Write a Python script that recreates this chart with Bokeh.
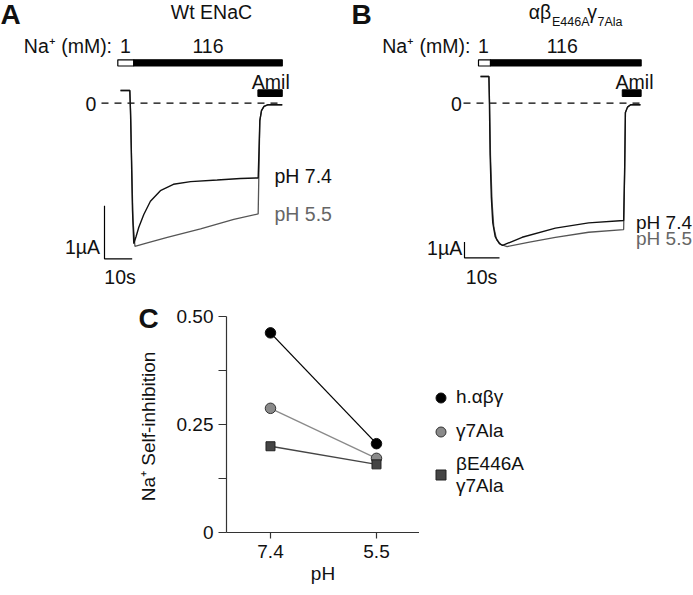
import math
from bokeh.plotting import figure
from bokeh.models import Range1d, Label, Legend, LegendItem, FixedTicker
from bokeh.layouts import column, row
from bokeh.embed import file_html
from bokeh.resources import INLINE

# ---------------- data ----------------
# Panel A (Wt ENaC): time (s), current (uA)
a_t_74 = [0, 3.36, 3.61, 3.97, 4.33, 4.80, 5.60, 6.61, 8.41, 10.8, 14.4, 19.1, 25.3, 34.9, 43.3, 49.7,
          50.0, 50.3, 50.9, 51.8, 53.1, 58.4]
a_i_74 = [0.24, 0.24, -0.14, -1.08, -2.02, -2.65, -2.52, -2.34, -2.10, -1.85, -1.65, -1.53, -1.48, -1.45, -1.42, -1.41,
          -0.89, -0.33, -0.14, -0.06, -0.03, -0.03]
a_t_55 = [0, 3.36, 3.70, 4.10, 4.50, 5.20, 10.0, 16.9, 28.9, 40.9, 49.7,
          50.0, 50.3, 50.9, 51.8, 53.1, 58.4]
a_i_55 = [0.24, 0.24, -0.30, -1.30, -2.20, -2.70, -2.63, -2.53, -2.37, -2.19, -2.09,
          -1.20, -0.33, -0.14, -0.06, -0.03, -0.03]
# Panel B (alpha beta-E446A gamma-7Ala)
b_t_74 = [0, 2.40, 2.55, 2.75, 3.10, 3.50, 4.20, 5.40, 6.30, 11.9, 21.4, 30.9, 40.9,
          41.2, 41.4, 42.0, 42.9, 45.7]
b_i_74 = [1.70, 1.70, 0.0, -3.3, -6.0, -7.6, -8.5, -8.95, -9.06, -8.54, -7.96, -7.62, -7.47,
          -4.0, -0.6, -0.25, -0.10, -0.10]
b_t_55 = [0, 2.40, 2.60, 2.85, 3.30, 3.80, 4.60, 5.80, 7.60, 14.0, 21.4, 30.9, 40.9,
          41.2, 41.4, 42.0, 42.9, 45.7]
b_i_55 = [1.70, 1.70, 0.0, -3.3, -6.3, -7.9, -8.7, -9.0, -9.13, -8.85, -8.54, -8.22, -8.05,
          -4.3, -0.6, -0.25, -0.10, -0.10]
# solution periods (s)
a_na1 = (-0.97, 4.8)
a_na116 = (4.8, 58.4)
a_amil = (49.6, 58.4)
b_na1 = (-0.57, 2.86)
b_na116 = (2.86, 45.9)
b_amil = (40.5, 45.9)
scale_i = 1.0    # uA
scale_t = 10.0   # s

# Panel C
ph_labels = ["7.4", "5.5"]
si_habg = [0.463, 0.206]
si_g7ala = [0.288, 0.172]
si_be446a_g7ala = [0.200, 0.158]
series_names = ["h.\u03b1\u03b2\u03b3", "\u03b37Ala", "\u03b2E446A\n\u03b37Ala"]
y_ticks = [0, 0.25, 0.5]
y_tick_labels = ["0", "0.25", "0.50"]
y_minor = [0.125, 0.375]

# ---------------- layout helpers ----------------
FONT = "Liberation Sans"
TOP_H = 290
Y0 = 102.7
TS = 19.5   # text size in the trace panels
CS = 19     # text size in panel C


def bare(p):
    p.grid.visible = False
    p.title.visible = False
    return p


def plain_fig(width, height, xr, yr):
    p = figure(width=width, height=height, x_range=xr, y_range=yr,
               output_backend="svg", toolbar_location=None, min_border=0,
               x_axis_location=None, y_axis_location=None,
               outline_line_color=None, border_fill_color="white")
    return bare(p)


def trace_panel(width, ref_left, x0, kx, ky):
    tx = lambda rx: (rx - x0) / kx
    iy = lambda ry: (Y0 - ry) / ky
    p = plain_fig(width, TOP_H, Range1d(tx(ref_left), tx(ref_left + width)),
                  Range1d(iy(TOP_H), iy(0)))
    return p, tx, iy


def lab(p, x, y, text, align="left", size=TS, color="#111111", style="normal", angle=0):
    p.add_layout(Label(x=x, y=y, text=text, text_align=align, text_baseline="middle",
                       text_font=FONT, text_font_size=f"{size}px", text_color=color,
                       text_font_style=style, angle=angle))


def decorate(p, tx, iy, dash0, na1, na116, amil):
    yb0, yb1 = iy(65.5), iy(59.3)
    p.quad(left=[na1[0]], right=[na1[1]], bottom=[yb0], top=[yb1],
           fill_color="white", line_color="black", line_width=1.2)
    p.quad(left=[na116[0]], right=[na116[1]], bottom=[yb0], top=[yb1],
           fill_color="black", line_color="black", line_width=1.2)
    p.quad(left=[amil[0]], right=[amil[1]], bottom=[iy(96)], top=[iy(89.3)],
           fill_color="black", line_color="black")
    p.line([tx(dash0), na116[1]], [0, 0], line_color="black", line_width=1.3, line_dash="7 6")


# ---------------- Panel A ----------------
WA = 346
pA, txA, iyA = trace_panel(WA, 0, 120, 2.77, 53)
decorate(pA, txA, iyA, 101, a_na1, a_na116, a_amil)
pA.line(a_t_55, a_i_55, line_color="#555555", line_width=1.3)
pA.line(a_t_74, a_i_74, line_color="#111111", line_width=1.4)
sbx, sby = txA(104), iyA(258.3)
pA.line([sbx, sbx, sbx + scale_t], [sby + scale_i, sby, sby], line_color="black", line_width=1.2)
lab(pA, txA(0), iyA(13.5), "A", size=28, style="bold")
lab(pA, txA(211), iyA(11.7), "Wt ENaC", align="center")
lab(pA, txA(23.3), iyA(45), "Na\u207a (mM):")
lab(pA, txA(125), iyA(45), "1", align="center")
lab(pA, txA(207.5), iyA(45), "116", align="center")
lab(pA, txA(270.3), iyA(81.5), "Amil", align="center")
lab(pA, txA(90.5), iyA(103.3), "0", align="center")
lab(pA, txA(274), iyA(175.8), "pH 7.4")
lab(pA, txA(274), iyA(213.7), "pH 5.5", color="#666666")
lab(pA, txA(99.5), iyA(246.5), "1\u00b5A", align="right")
lab(pA, txA(119.5), iyA(276.2), "10s", align="center")

# ---------------- Panel B ----------------
WB = 347
pB, txB, iyB = trace_panel(WB, WA, 480, 3.5, 15.7)
decorate(pB, txB, iyB, 463, b_na1, b_na116, b_amil)
pB.line(b_t_55, b_i_55, line_color="#555555", line_width=1.3)
pB.line(b_t_74, b_i_74, line_color="#111111", line_width=1.4)
sbx, sby = txB(464), iyB(257.3)
pB.line([sbx, sbx, sbx + scale_t], [sby + scale_i, sby, sby], line_color="black", line_width=1.2)
lab(pB, txB(351), iyB(13.5), "B", size=28, style="bold")
lab(pB, txB(528.3), iyB(11.7), "\u03b1\u03b2")
lab(pB, txB(551.5), iyB(21.5), "E446A", size=12.5)
lab(pB, txB(586.7), iyB(11.7), "\u03b3")
lab(pB, txB(597), iyB(21.5), "7Ala", size=12.5)
lab(pB, txB(381.7), iyB(45), "Na\u207a (mM):")
lab(pB, txB(483), iyB(45), "1", align="center")
lab(pB, txB(561.7), iyB(45), "116", align="center")
lab(pB, txB(634), iyB(81.5), "Amil", align="center")
lab(pB, txB(456), iyB(103.3), "0", align="center")
lab(pB, txB(635.5), iyB(221.7), "pH 7.4", size=19)
lab(pB, txB(635.5), iyB(238.3), "pH 5.5", size=19, color="#666666")
lab(pB, txB(461.7), iyB(247.3), "1\u00b5A", align="right")
lab(pB, txB(481), iyB(276.5), "10s", align="center")

# ---------------- Panel C ----------------
CH = 305
C_BOT = 63                 # bottom border (x axis) shared by the three plots in the row
C_FH = CH - C_BOT          # frame height, plots in a row share their borders
LW = 160
# left strip: panel letter and y-axis title (coordinates = -pixel row of the page)
pL = plain_fig(LW, CH, Range1d(0, LW), Range1d(-(TOP_H + C_FH), -TOP_H))
lab(pL, 138, -318, "C", size=28, style="bold")
lab(pL, 147.5, -426, "Na\u207a Self-inhibition", align="center", size=CS, angle=math.pi / 2)

x_pos = list(range(1, len(ph_labels) + 1))
C_LB = 66
C_FW = 193
CW = C_LB + C_FW
PX_PER_UNIT = 431.2
pC = figure(width=CW, height=CH, x_range=Range1d(0.585, 0.585 + C_FW / 106),
            y_range=Range1d(0, C_FH / PX_PER_UNIT),
            output_backend="svg", toolbar_location=None,
            min_border_left=C_LB, min_border_right=0, min_border_top=0, min_border_bottom=C_BOT,
            outline_line_color=None, border_fill_color="white")
bare(pC)

# right strip: legend
RW = 693 - LW - CW
pR = plain_fig(RW, CH, Range1d(-10, -9), Range1d(-10, -9))

styles = [
    ("circle", "#000000", "#000000", "#111111", 10.5),
    ("circle", "#8a8a8a", "#8a8a8a", "#333333", 10.5),
    ("square", "#454545", "#454545", "#222222", 9),
]
items = []
for name, vals, (mk, lc, fc, oc, sz) in zip(series_names, [si_habg, si_g7ala, si_be446a_g7ala], styles):
    pC.line(x_pos, vals, line_color=lc, line_width=1.3)
    pC.scatter(x_pos, vals, marker=mk, size=sz, fill_color=fc, line_color=oc, line_width=1)
    key = pR.scatter(x_pos, vals, marker=mk, size=sz, fill_color=fc, line_color=oc, line_width=1,
                     visible=False)
    items.append(LegendItem(label=name, renderers=[key]))

legend = Legend(items=items, location=(9, 35.5), glyph_width=25, glyph_height=25,
                label_standoff=3, spacing=9, padding=0, margin=0,
                border_line_color=None, background_fill_alpha=0,
                inactive_fill_alpha=0,
                label_text_font=FONT, label_text_font_size=f"{CS}px", label_text_color="#111111")
pR.add_layout(legend)

for ax in (pC.xaxis[0], pC.yaxis[0]):
    ax.axis_line_color = "#333333"
    ax.axis_line_width = 1.2
    ax.major_tick_line_color = "#333333"
    ax.major_tick_line_width = 1.2
    ax.major_tick_in = 0
    ax.major_label_text_font = FONT
    ax.major_label_text_font_size = f"{CS}px"
    ax.major_label_text_color = "#111111"
    ax.axis_label_text_font = FONT
    ax.axis_label_text_font_size = f"{CS}px"
    ax.axis_label_text_font_style = "normal"
    ax.axis_label_text_color = "#111111"

pC.xaxis.ticker = FixedTicker(ticks=x_pos)
pC.xaxis.major_label_overrides = dict(zip(x_pos, ph_labels))
pC.xaxis.major_tick_out = 6
pC.xaxis.major_label_standoff = 6
pC.xaxis.axis_label = "pH"
pC.xaxis.axis_label_standoff = 2

pC.yaxis.ticker = FixedTicker(ticks=y_ticks, minor_ticks=y_minor)
pC.yaxis.bounds = (y_ticks[0], y_ticks[-1])
pC.yaxis.major_label_overrides = dict(zip(y_ticks, y_tick_labels))
pC.yaxis.major_tick_out = 8
pC.yaxis.minor_tick_out = 8
pC.yaxis.minor_tick_in = 0
pC.yaxis.minor_tick_line_color = "#333333"
pC.yaxis.minor_tick_line_width = 1.2
pC.yaxis.major_label_standoff = 5

layout = column(row(pA, pB, spacing=0), row(pL, pC, pR, spacing=0), spacing=0)
open("out.html", "w").write(file_html(layout, INLINE))
